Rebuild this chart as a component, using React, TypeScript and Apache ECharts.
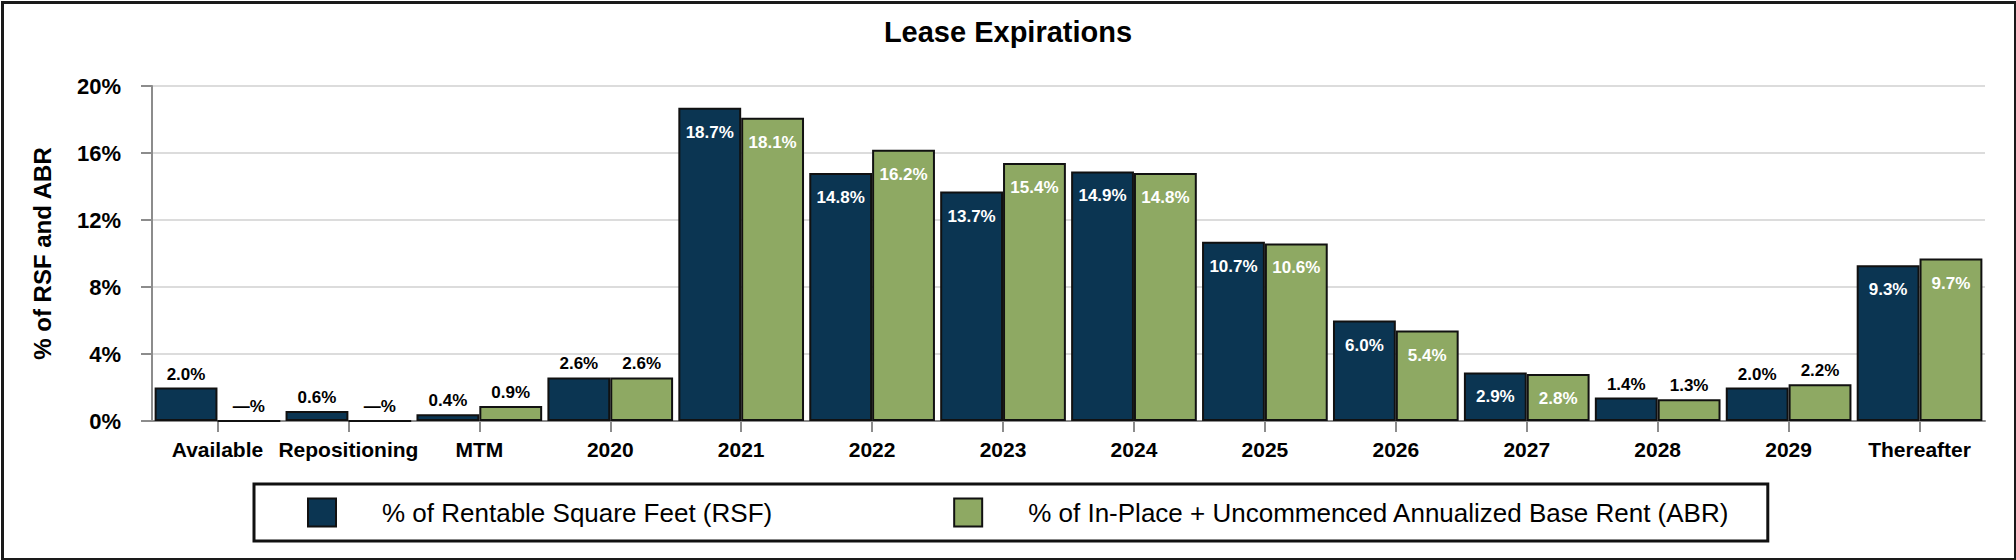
import React, { useEffect, useRef } from 'react';
import * as echarts from 'echarts';

const categories = [
  'Available', 'Repositioning', 'MTM', '2020', '2021', '2022', '2023',
  '2024', '2025', '2026', '2027', '2028', '2029', 'Thereafter',
];
const rsfValues = [2.0, 0.6, 0.4, 2.6, 18.7, 14.8, 13.7, 14.9, 10.7, 6.0, 2.9, 1.4, 2.0, 9.3];
const abrValues = [0, 0, 0.9, 2.6, 18.1, 16.2, 15.4, 14.8, 10.6, 5.4, 2.8, 1.3, 2.2, 9.7];
const seriesNames = [
  '% of Rentable Square Feet (RSF)',
  '% of In-Place + Uncommenced Annualized Base Rent (ABR)',
];
const yMin = 0;
const yMax = 20;
const yInterval = 4;
const INSIDE_LABEL_MIN = 2.7;

const FONT = '"Liberation Sans", Arial, Helvetica, sans-serif';
const NAVY = '#0b3552';
const GREEN = '#8ea963';

function toItems(vals: number[]) {
  return vals.map((v) => ({
    value: v,
    label:
      v >= INSIDE_LABEL_MIN
        ? { position: 'insideTop', distance: 16, color: '#ffffff' }
        : { position: 'top', distance: 5, color: '#000000' },
  }));
}

export default function App() {
  const ref = useRef<HTMLDivElement>(null);

  useEffect(() => {
    if (!ref.current) return;
    const chart = echarts.init(ref.current, undefined, { renderer: 'svg' });
    const labelCommon = {
      show: true,
      fontSize: 17,
      fontWeight: 'bold',
      fontFamily: FONT,
      formatter: (p: any) => (Number(p.value) === 0 ? '\u2014%' : Number(p.value).toFixed(1) + '%'),
    };
    chart.setOption({
      animation: false,
      backgroundColor: '#ffffff',
      title: {
        text: 'Lease Expirations',
        left: 'center',
        top: 12,
        textStyle: { fontFamily: FONT, fontSize: 29, fontWeight: 'bold', color: '#000' },
      },
      grid: { left: 152, right: 31, top: 86, bottom: 139, containLabel: false },
      legend: {
        left: 254,
        top: 484,
        padding: [13.5, 38, 13.5, 53],
        borderColor: '#111111',
        borderWidth: 3,
        itemWidth: 28,
        itemHeight: 28,
        itemGap: 181,
        icon: 'rect',
        textStyle: {
          fontFamily: FONT,
          fontSize: 26,
          color: '#000',
          padding: [0, 0, 0, 41],
        },
        data: seriesNames,
      },
      xAxis: {
        type: 'category',
        data: categories,
        axisLine: { show: true, lineStyle: { color: '#8c8c8c', width: 2 } },
        axisTick: { show: true, alignWithLabel: true, length: 11, lineStyle: { color: '#8c8c8c', width: 2 } },
        axisLabel: {
          interval: 0,
          margin: 18,
          fontFamily: FONT,
          fontSize: 21,
          fontWeight: 'bold',
          color: '#000',
        },
        splitLine: { show: false },
      },
      yAxis: {
        type: 'value',
        min: yMin,
        max: yMax,
        interval: yInterval,
        name: '% of RSF and ABR',
        nameLocation: 'middle',
        nameRotate: 90,
        nameGap: 98,
        nameTextStyle: { fontFamily: FONT, fontSize: 24, fontWeight: 'bold', color: '#000' },
        axisLine: { show: true, lineStyle: { color: '#8c8c8c', width: 2 } },
        axisTick: { show: true, length: 11, lineStyle: { color: '#8c8c8c', width: 2 } },
        axisLabel: {
          margin: 31,
          formatter: '{value}%',
          fontFamily: FONT,
          fontSize: 22,
          fontWeight: 'bold',
          color: '#000',
        },
        splitLine: { show: true, lineStyle: { color: '#dcdcdc', width: 2 } },
      },
      series: [
        {
          type: 'bar',
          name: seriesNames[0],
          data: toItems(rsfValues),
          barGap: '0%',
          barCategoryGap: '4%',
          itemStyle: { color: NAVY, borderColor: '#111111', borderWidth: 2 },
          label: labelCommon,
        },
        {
          type: 'bar',
          name: seriesNames[1],
          data: toItems(abrValues),
          barGap: '0%',
          barCategoryGap: '4%',
          itemStyle: { color: GREEN, borderColor: '#111111', borderWidth: 2 },
          label: labelCommon,
        },
      ],
      graphic: [
        {
          type: 'rect',
          left: 0,
          top: 0,
          shape: { x: 0, y: 0, width: 2013, height: 557 },
          style: { fill: 'none', stroke: '#1a1a1a', lineWidth: 3 },
          silent: true,
          z: 100,
        },
      ],
    });
    return () => chart.dispose();
  }, []);

  return (
    <div
      ref={ref}
      style={{ position: 'fixed', left: 0, top: 0, width: 2016, height: 560, background: '#fff' }}
    />
  );
}
